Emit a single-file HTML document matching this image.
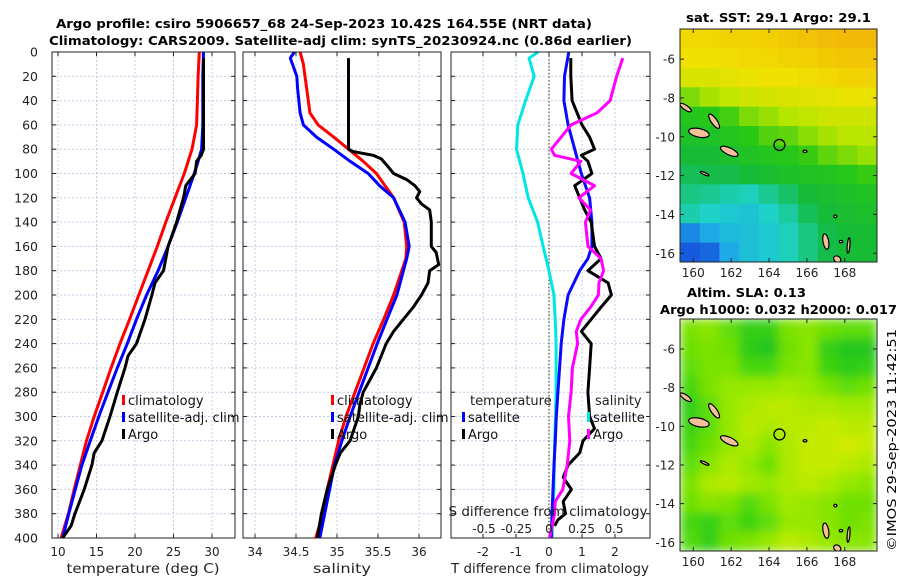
<!DOCTYPE html>
<html><head><meta charset="utf-8"><style>
html,body{margin:0;padding:0;background:#fff;}
svg{display:block;font-family:"DejaVu Sans","Liberation Sans",sans-serif;}
</style></head><body>
<svg id="fig" width="900" height="580" viewBox="0 0 900 580" xmlns="http://www.w3.org/2000/svg">
<defs><filter id="blur2" x="0" y="0" width="100%" height="100%"><feGaussianBlur stdDeviation="5"/></filter>
<clipPath id="clipm1"><rect x="680" y="29" width="197" height="233"/></clipPath>
<clipPath id="clipm2"><rect x="680" y="319" width="197" height="232"/></clipPath></defs>
<text x="56" y="28" font-size="12.5" font-weight="bold" textLength="536" lengthAdjust="spacingAndGlyphs">Argo profile: csiro 5906657_68 24-Sep-2023 10.42S 164.55E (NRT data)</text>
<text x="49" y="45" font-size="12.5" font-weight="bold" textLength="583" lengthAdjust="spacingAndGlyphs">Climatology: CARS2009. Satellite-adj clim: synTS_20230924.nc (0.86d earlier)</text>
<text x="686" y="22" font-size="12.5" font-weight="bold" textLength="185" lengthAdjust="spacingAndGlyphs">sat. SST: 29.1 Argo: 29.1</text>
<text x="687" y="297" font-size="12.5" font-weight="bold" textLength="119" lengthAdjust="spacingAndGlyphs">Altim. SLA: 0.13</text>
<text x="660" y="314" font-size="12.5" font-weight="bold" textLength="237" lengthAdjust="spacingAndGlyphs">Argo h1000: 0.032 h2000: 0.017</text>
<text transform="translate(896,440) rotate(-90)" text-anchor="middle" font-size="12.5" textLength="222" lengthAdjust="spacingAndGlyphs">©IMOS 29-Sep-2023 11:42:51</text>
</svg>
<script>
// ---------- data ----------
const depthTicks=[0,20,40,60,80,100,120,140,160,180,200,220,240,260,280,300,320,340,360,380,400];
const tempTicks=[10,15,20,25,30];
const salTicks=[34,34.5,35,35.5,36];
const tdiffTicks=[-2,-1,0,1,2];
const sdiffTicks=[-0.5,-0.25,0,0.25,0.5];
const sdiffTickLabels=["-0.5","-0.25","0","0.25","0.5"];
// temperature
const tClimDepth=[0,20,40,60,70,80,100,120,140,160,180,200,220,240,260,280,300,320,340,360,380,400];
const tClim=[28.35,28.2,28.1,28.0,27.7,27.4,26.4,25.2,24.0,22.9,21.7,20.5,19.3,18.05,16.9,15.8,14.7,13.7,12.9,12.1,11.35,10.4];
const tSatDepth=[0,20,60,80,90,100,120,140,160,180,200,220,240,260,280,300,320,340,360,380,400];
const tSat=[28.9,28.8,28.8,28.65,28.2,27.7,26.6,25.5,24.3,23.0,21.5,20.2,19.0,17.7,16.5,15.3,14.2,13.1,12.25,11.4,10.6];
const tArgoDepth=[5,60,80,85,90,100,110,120,140,160,180,190,200,220,240,250,260,280,300,320,330,340,360,370,380,390,400];
const tArgo=[28.9,28.9,28.9,28.6,28.0,27.8,26.6,26.3,25.4,24.3,23.7,22.6,22.2,21.3,20.2,19.1,18.7,17.7,16.75,15.7,14.7,14.4,13.4,12.8,12.2,11.7,10.6];
// salinity
const sClimDepth=[0,10,20,40,50,60,70,80,90,100,120,140,160,170,180,200,220,240,260,280,300,320,340,360,380,400];
const sClim=[34.55,34.59,34.61,34.65,34.67,34.77,34.96,35.14,35.32,35.48,35.69,35.82,35.85,35.84,35.79,35.69,35.57,35.44,35.33,35.22,35.11,35.02,34.95,34.88,34.83,34.74];
const sSatDepth=[0,5,20,30,50,60,70,80,90,100,110,120,140,160,170,180,200,220,240,260,280,300,320,340,360,380,400];
const sSat=[34.48,34.43,34.51,34.52,34.55,34.59,34.75,34.96,35.16,35.38,35.52,35.69,35.83,35.88,35.85,35.81,35.73,35.61,35.49,35.38,35.27,35.16,35.06,34.97,34.91,34.85,34.79];
const sArgoDepth=[5,80,82,85,88,95,100,105,110,115,120,125,130,140,150,160,165,175,180,190,200,210,220,230,240,260,270,280,290,300,320,330,340,360,380,400];
const sArgo=[35.14,35.14,35.2,35.44,35.54,35.63,35.69,35.85,35.95,36.01,35.97,36.03,36.13,36.15,36.15,36.15,36.21,36.24,36.13,36.11,36.03,35.93,35.81,35.69,35.6,35.48,35.4,35.32,35.28,35.26,35.16,35.04,34.98,34.88,34.81,34.76];
// differences
const dTSatDepth=[0,20,40,60,80,100,120,140,160,170,180,200,220,240,260,280,300,320,340,360,380,400];
const dTSat=[0.6,0.47,0.45,0.58,0.78,0.98,1.23,1.3,1.3,1.18,0.93,0.58,0.45,0.37,0.32,0.27,0.22,0.19,0.15,0.12,0.09,0.07];
const dSSatDepth=[0,5,20,40,60,80,100,120,140,160,180,200,220,240,280,300,320,360,400];
const dSSat=[-0.083,-0.154,-0.114,-0.18,-0.24,-0.25,-0.2,-0.16,-0.088,-0.045,0,0.038,0.048,0.055,0.055,0.05,0.043,0.038,0.023];
const dTArgoDepth=[5,20,40,60,70,80,85,90,100,110,120,130,140,160,170,180,190,200,210,220,230,240,260,280,300,310,320,330,340,350,360,370,380,385,390];
const dTArgo=[0.66,0.66,0.7,1.0,1.23,1.38,0.98,1.18,1.3,0.78,0.93,1.08,1.28,1.38,1.58,1.18,1.79,1.89,1.58,1.28,0.98,1.28,1.23,1.18,1.23,1.38,1.03,0.93,0.58,0.43,0.68,0.43,0.5,0.27,0.17];
const dSArgoDepth=[5,20,40,50,60,80,85,90,100,110,120,130,140,160,170,180,190,200,210,220,230,240,260,280,300,320,340,360,370,380,400];
const dSArgo=[0.568,0.52,0.47,0.37,0.17,0.018,0.043,0.245,0.17,0.35,0.23,0.32,0.28,0.3,0.4,0.42,0.385,0.38,0.32,0.245,0.21,0.22,0.18,0.17,0.15,0.16,0.14,0.106,0.048,0.043,0.005];
// maps
const lonTicks=[160,162,164,166,168];
const latTicks=[-6,-8,-10,-12,-14,-16];
const sstGrid=[
[0.8,0.8,0.81,0.81,0.82,0.83,0.85,0.86,0.87,0.87],
[0.78,0.78,0.79,0.8,0.8,0.81,0.82,0.83,0.84,0.84],
[0.74,0.74,0.76,0.77,0.78,0.78,0.79,0.8,0.81,0.81],
[0.64,0.67,0.7,0.72,0.73,0.74,0.75,0.76,0.77,0.77],
[0.56,0.57,0.6,0.64,0.66,0.68,0.7,0.72,0.72,0.72],
[0.53,0.53,0.56,0.58,0.61,0.62,0.65,0.67,0.69,0.69],
[0.5,0.5,0.52,0.54,0.56,0.57,0.59,0.62,0.64,0.66],
[0.46,0.47,0.47,0.49,0.51,0.53,0.54,0.55,0.57,0.59],
[0.43,0.42,0.4,0.39,0.42,0.45,0.49,0.51,0.53,0.54],
[0.4,0.38,0.36,0.35,0.38,0.41,0.46,0.49,0.51,0.52],
[0.25,0.3,0.33,0.34,0.36,0.39,0.43,0.47,0.49,0.5],
[0.18,0.2,0.3,0.34,0.36,0.39,0.43,0.47,0.49,0.5]];
const slaGrid=[
[0.5,0.55,0.4,0.2,0.2,0.5,0.55,0.45,0.4,0.4],
[0.45,0.5,0.45,0.15,0.1,0.45,0.55,0.2,0.1,0.1],
[0.4,0.5,0.5,0.3,0.3,0.5,0.55,0.25,0.15,0.2],
[0.3,0.5,0.6,0.6,0.6,0.65,0.6,0.5,0.4,0.45],
[0.2,0.4,0.6,0.7,0.75,0.75,0.7,0.7,0.65,0.65],
[0.25,0.4,0.6,0.75,0.7,0.75,0.75,0.8,0.75,0.75],
[0.3,0.45,0.6,0.7,0.55,0.7,0.8,0.8,0.85,0.8],
[0.4,0.55,0.7,0.6,0.45,0.7,0.8,0.8,0.75,0.7],
[0.5,0.7,0.75,0.65,0.6,0.7,0.75,0.7,0.6,0.55],
[0.45,0.55,0.5,0.35,0.5,0.65,0.6,0.55,0.45,0.45],
[0.3,0.2,0.4,0.25,0.4,0.6,0.6,0.55,0.45,0.5],
[0.35,0.2,0.45,0.5,0.6,0.75,0.7,0.6,0.55,0.55]];
const argoLon=164.55, argoLat=-10.42;
// islands: [lon, lat, rx(deg), ry(deg), rotation]
const islands=[[160.3,-9.8,0.55,0.22,12],[161.1,-9.2,0.45,0.15,55],[161.9,-10.75,0.5,0.18,25],[159.6,-8.5,0.35,0.12,35],[160.6,-11.9,0.25,0.06,25],[167.0,-15.4,0.15,0.4,-10],[167.6,-16.3,0.2,0.15,30],[168.2,-15.6,0.07,0.4,5],[165.9,-10.75,0.1,0.06,0],[167.5,-14.1,0.08,0.07,0],[167.8,-15.4,0.09,0.06,0]];

// ---------- helpers ----------
const NS="http://www.w3.org/2000/svg";
const svg=document.getElementById('fig');
function mk(tag,attrs,parent){const e=document.createElementNS(NS,tag);for(const k in attrs)e.setAttribute(k,attrs[k]);(parent||svg).appendChild(e);return e;}
const PT=52,PB=538;
function yD(d){return PT+(PB-PT)*d/400;}
function lin(d0,d1,r0,r1){return v=>r0+(v-d0)*(r1-r0)/(d1-d0);}
const panels=[
 {name:'temperature-panel',x0:52,x1:235,sx:lin(10,30,58,212)},
 {name:'salinity-panel',x0:243,x1:441,sx:lin(34,36,255,419)},
 {name:'difference-panel',x0:451,x1:650,sx:lin(0,2,549,615)}];
const sdx=lin(0,0.5,549,614);

panels.forEach((p,i)=>{
 const g=mk('g',{});
 
 
 mk('rect',{x:p.x0,y:PT,width:p.x1-p.x0,height:PB-PT,fill:'#fff'},g);
 depthTicks.forEach(d=>{
  const l=mk('line',{x1:p.x0,x2:p.x1,y1:yD(d),y2:yD(d),stroke:'#c4cbe6','stroke-width':1,'stroke-dasharray':'2,2'},g);
  
  
  mk('line',{x1:p.x0,x2:p.x0+4,y1:yD(d),y2:yD(d),stroke:'#222'},g);
  mk('line',{x1:p.x1-4,x2:p.x1,y1:yD(d),y2:yD(d),stroke:'#222'},g);
 });
 const ticks=i==0?tempTicks:i==1?salTicks:tdiffTicks;
 ticks.forEach(t=>{
  const X=p.sx(t);
  const l=mk('line',{x1:X,x2:X,y1:PT,y2:PB,stroke:'#c4cbe6','stroke-width':1,'stroke-dasharray':'2,2'},g);
  
  
  mk('line',{x1:X,x2:X,y1:PB-4,y2:PB,stroke:'#222'},g);
  mk('line',{x1:X,x2:X,y1:PT,y2:PT+4,stroke:'#222'},g);
  const tx=mk('text',{x:X,y:556,'text-anchor':'middle','font-size':12,fill:'#222'},g);
  tx.textContent=String(t);
  
  
 });
});
depthTicks.forEach(d=>{
 const t=mk('text',{x:38,y:yD(d)+4.5,'text-anchor':'end','font-size':12.5,fill:'#222'});
 t.textContent=String(d);
 
 
});
const zl=mk('line',{x1:549,x2:549,y1:PT,y2:PB,stroke:'#4a5a3a','stroke-width':1.2,'stroke-dasharray':'1.5,2'});



function series(depths,vals,xf,color,name,w){
 const pts=depths.map((d,i)=>xf(vals[i]).toFixed(1)+','+yD(d).toFixed(1)).join(' ');
 const pl=mk('polyline',{points:pts,fill:'none',stroke:color,'stroke-width':w||3,'stroke-linejoin':'round'});
 
 
}
series(tClimDepth,tClim,panels[0].sx,'#ff0000','temp-climatology-line');
series(tSatDepth,tSat,panels[0].sx,'#0000ff','temp-satellite-line');
series(tArgoDepth,tArgo,panels[0].sx,'#000','temp-argo-line');
series(sClimDepth,sClim,panels[1].sx,'#ff0000','sal-climatology-line');
series(sSatDepth,sSat,panels[1].sx,'#0000ff','sal-satellite-line');
series(sArgoDepth,sArgo,panels[1].sx,'#000','sal-argo-line');
series(dSSatDepth,dSSat,sdx,'#00e6e6','sdiff-satellite-line');
series(dTSatDepth,dTSat,panels[2].sx,'#0a0aff','tdiff-satellite-line');
series(dTArgoDepth,dTArgo,panels[2].sx,'#000','tdiff-argo-line');
series(dSArgoDepth,dSArgo,sdx,'#ff00ff','sdiff-argo-line');

panels.forEach(p=>{mk('rect',{x:p.x0,y:PT,width:p.x1-p.x0,height:PB-PT,fill:'none',stroke:'#222','stroke-width':1});});

sdiffTicks.forEach((t,i)=>{
 const tx=mk('text',{x:sdx(t),y:533,'text-anchor':'middle','font-size':12,fill:'#222'});
 tx.textContent=sdiffTickLabels[i];
 
 
});
function label(x,y,txt,name,anchor,size,len){const a={x:x,y:y,'text-anchor':anchor||'middle','font-size':size||13,fill:'#222'};if(len){a.textLength=len;a.lengthAdjust='spacingAndGlyphs';}const t=mk('text',a);t.textContent=txt;return t;}
label(548,516,'S difference from climatology','sdiff-axis-title','middle',13,199);
label(143,573,'temperature (deg C)','temp-axis-title','middle',13,153);
label(342,573,'salinity','sal-axis-title','middle',13,58);
label(550,573,'T difference from climatology','tdiff-axis-title','middle',13,198);

function legEntry(bx,ty,color,txt,name){
 const g=mk('g',{});
 
 
 mk('rect',{x:bx,y:ty-10,width:3,height:10,fill:color},g);
 const t=mk('text',{x:bx+6,y:ty,'font-size':13,fill:'#111'},g);t.textContent=txt;
}
legEntry(122,405,'#ff0000','climatology','legend-temp-climatology');
legEntry(122,422,'#0000ff','satellite-adj. clim','legend-temp-satellite');
legEntry(122,439,'#000','Argo','legend-temp-argo');
legEntry(331,405,'#ff0000','climatology','legend-sal-climatology');
legEntry(331,422,'#0000ff','satellite-adj. clim','legend-sal-satellite');
legEntry(331,439,'#000','Argo','legend-sal-argo');
label(470,405,'temperature','legend-temp-header','start');
legEntry(462,422,'#0000ff','satellite','legend-tdiff-satellite');
legEntry(462,439,'#000','Argo','legend-tdiff-argo');
label(595,405,'salinity','legend-sal-header','start');
legEntry(587,422,'#00e6e6','satellite','legend-sdiff-satellite');
legEntry(587,439,'#ff00ff','Argo','legend-sdiff-argo');

// ---------- maps ----------
const LON0=159.3,LON1=169.7,LAT0=-4.45,LAT1=-16.45;
function sstColor(v){
 const stops=[[0.15,[20,70,220]],[0.3,[30,170,230]],[0.38,[30,210,200]],[0.48,[20,185,60]],[0.58,[40,200,20]],[0.68,[180,230,0]],[0.78,[240,225,0]],[0.9,[245,170,10]]];
 return interp(stops,v);}
function slaColor(v){
 const stops=[[0,[20,190,40]],[0.3,[70,215,10]],[0.6,[150,232,0]],[0.9,[220,236,0]]];
 return interp(stops,v);}
function interp(stops,v){
 if(v<=stops[0][0])return 'rgb('+stops[0][1]+')';
 for(let i=1;i<stops.length;i++){if(v<=stops[i][0]){const a=stops[i-1],b=stops[i],f=(v-a[0])/(b[0]-a[0]);return 'rgb('+a[1].map((c,k)=>Math.round(c+f*(b[1][k]-c))).join(',')+')';}}
 return 'rgb('+stops[stops.length-1][1]+')';}
function drawMap(top,h,grid,colf,name,clip,blur){
 const x0=680,w=197;
 const lx=lin(LON0,LON1,x0,x0+w), ly=lin(LAT0,LAT1,top,top+h);
 const g=mk('g',{'clip-path':'url(#'+clip+')'});
 
 
 const inner=mk('g',blur?{filter:'url(#blur2)'}:{},g);
 const rows=grid.length,cols=grid[0].length;
 const cw=w/cols,ch=h/rows;
 grid.forEach((row,r)=>row.forEach((v,c)=>{
  const cell=mk('rect',{x:(x0+c*cw).toFixed(1),y:(top+r*ch).toFixed(1),width:(cw+0.6).toFixed(1),height:(ch+0.6).toFixed(1),fill:colf(v)},inner);
  
  
 }));
 islands.forEach(is=>{
  const e=mk('ellipse',{cx:lx(is[0]),cy:ly(is[1]),rx:is[2]*19,ry:is[3]*19.4,transform:'rotate('+is[4]+' '+lx(is[0])+' '+ly(is[1])+')',fill:'#f4c09a',stroke:'#000','stroke-width':1.2},g);
  
  
 });
 const m=mk('circle',{cx:lx(argoLon),cy:ly(argoLat),r:5.5,fill:'none',stroke:'#000','stroke-width':1.3},g);
 
 
 mk('rect',{x:x0,y:top,width:w,height:h,fill:'none',stroke:'#222'});
 latTicks.forEach(t=>{
  const Y=ly(t);
  mk('line',{x1:x0,x2:x0+4,y1:Y,y2:Y,stroke:'#222'});
  mk('line',{x1:x0+w-4,x2:x0+w,y1:Y,y2:Y,stroke:'#222'});
  const tx=mk('text',{x:x0-5,y:Y+4.5,'text-anchor':'end','font-size':12,fill:'#222'});tx.textContent=String(t);
  
  
 });
 lonTicks.forEach(t=>{
  const X=lx(t);
  mk('line',{x1:X,x2:X,y1:top+h-4,y2:top+h,stroke:'#222'});
  mk('line',{x1:X,x2:X,y1:top,y2:top+4,stroke:'#222'});
  const tx=mk('text',{x:X,y:top+h+15,'text-anchor':'middle','font-size':12,fill:'#222'});tx.textContent=String(t);
  
  
 });
}
drawMap(29,233,sstGrid,sstColor,'sst-map','clipm1',false);
drawMap(319,232,slaGrid,slaColor,'sla-map','clipm2',true);
</script>
</body></html>
